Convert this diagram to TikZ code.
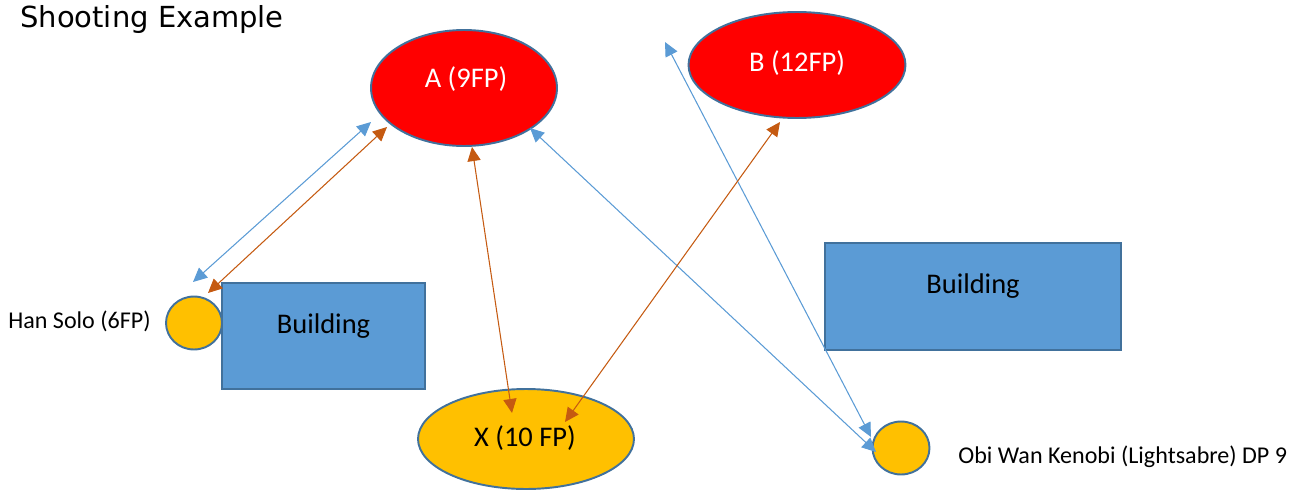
\documentclass[tikz,border=0pt]{standalone}
\usepackage{fontspec}
\setmainfont{Carlito}
\newfontfamily\titlefont{DejaVu Sans}
\usetikzlibrary{arrows.meta,shapes.geometric}
\definecolor{ofblue}{HTML}{5B9BD5}
\definecolor{ofline}{HTML}{41719C}
\definecolor{ofgold}{HTML}{FFC000}
\definecolor{oforange}{HTML}{C55A11}
\begin{document}
\begin{tikzpicture}[x=0.02cm,y=-0.02cm,
  shapebase/.style={draw=ofline, line width=1.1pt, inner sep=0pt, outer sep=0pt},
  redell/.style={shapebase, ellipse, fill=red},
  goldell/.style={shapebase, ellipse, fill=ofgold},
  bldg/.style={shapebase, rectangle, fill=ofblue},
  intext/.style={font=\fontsize{16.2}{19}\selectfont, inner sep=0pt},
  sidetext/.style={font=\fontsize{13.7}{16}\selectfont, anchor=base west, inner sep=0pt},
  link/.style={line width=0.6pt, <->, >={Triangle[length=8pt,width=7.5pt]}},
  bluelink/.style={link, draw=ofblue},
  orlink/.style={link, draw=oforange},
]
\useasboundingbox (0,0) rectangle (1291,490);

\node[anchor=base west, inner sep=0pt, font=\titlefont\fontsize{16.5}{20}\selectfont] (title) at (20,28) {Shooting Example};

\node[redell, minimum width=3.72cm, minimum height=2.32cm,
  label={[intext,text=white,shift={(2,-9)}]center:A (9FP)}] (A) at (464,88) {};
\node[redell, minimum width=4.34cm, minimum height=2.12cm,
  label={[intext,text=white,shift={(0,-2)}]center:B (12FP)}] (B) at (797,65) {};
\node[goldell, minimum width=4.32cm, minimum height=2.0cm,
  label={[intext,shift={(-1,-1)}]center:X (10 FP)}] (X) at (526,439) {};
\node[goldell, minimum width=1.12cm, minimum height=1.06cm] (han) at (194,323) {};
\node[goldell, minimum width=1.14cm, minimum height=1.06cm] (obi) at (901,448) {};
\node[bldg, minimum width=4.06cm, minimum height=2.12cm,
  label={[intext,shift={(0,-10)}]center:Building}] (bld1) at (323.5,336) {};
\node[bldg, minimum width=5.92cm, minimum height=2.14cm,
  label={[intext,shift={(0,-10.5)}]center:Building}] (bld2) at (973,296.5) {};

\node[sidetext] (hanlbl) at (8,328) {Han Solo (6FP)};
\node[sidetext] (obilbl) at (958,463) {Obi Wan Kenobi (Lightsabre) DP 9};

\coordinate (aim) at (665,42);

\draw[bluelink] ([shift={(-1,-41)}]han.center) -- ([shift={(-93,34)}]A.center);
\draw[orlink] ([shift={(14,-30)}]han.center) -- ([shift={(-77,39)}]A.center);
\draw[orlink] ([shift={(8,59)}]A.center) -- ([shift={(-14,-26)}]X.center);
\draw[bluelink] ([shift={(66,40)}]A.center) -- ([shift={(-25,4)}]obi.center);
\draw[bluelink] (aim) -- ([shift={(-30,-11)}]obi.center);
\draw[orlink] ([shift={(-17,57)}]B.center) -- ([shift={(39,-17)}]X.center);
\end{tikzpicture}
\end{document}
